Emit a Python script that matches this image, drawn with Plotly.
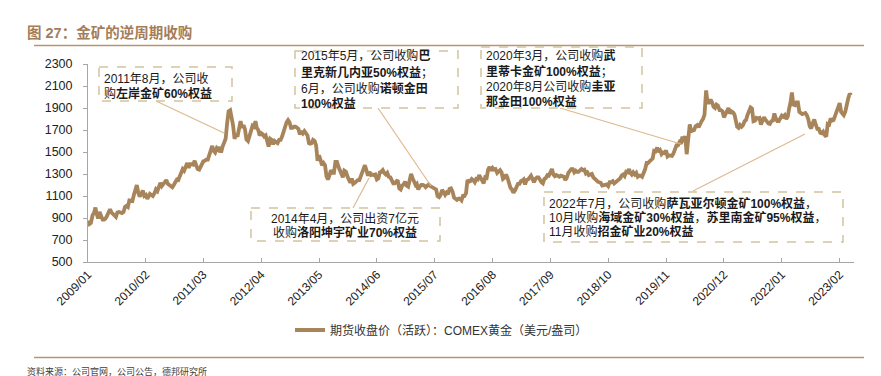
import pandas as pd
import plotly.graph_objects as go

# ---------------- data (COMEX gold, USD/oz, sampled on day 1/11/21 of each month) -------------
years = list(range(2009, 2024))
gold_2009 = [875, 845, 855, 925, 945, 995, 940, 895, 955, 920, 885, 885,
             895, 920, 955, 980, 950, 935, 930, 910, 950, 955, 950, 945,
             955, 1000, 1010, 1000, 1060, 1060, 1055, 1110, 1145, 1200, 1130, 1095]
gold_2010 = [1120, 1150, 1100, 1110, 1075, 1115, 1120, 1110, 1100, 1125, 1160, 1145,
             1180, 1220, 1190, 1215, 1230, 1245, 1210, 1200, 1190, 1180, 1200, 1230,
             1250, 1245, 1275, 1315, 1345, 1330, 1360, 1400, 1355, 1390, 1390, 1385]
gold_2011 = [1420, 1385, 1345, 1340, 1365, 1390, 1415, 1420, 1430, 1430, 1470, 1505,
             1555, 1510, 1495, 1535, 1520, 1545, 1495, 1550, 1595, 1620, 1760, 1870,
             1880, 1820, 1740, 1620, 1660, 1640, 1730, 1780, 1720, 1745, 1710, 1615]
gold_2012 = [1600, 1640, 1670, 1740, 1730, 1780, 1720, 1700, 1650, 1670, 1660, 1640,
             1650, 1590, 1550, 1620, 1610, 1570, 1600, 1590, 1580, 1610, 1610, 1640,
             1690, 1730, 1770, 1790, 1770, 1720, 1720, 1730, 1730, 1720, 1710, 1660]
gold_2013 = [1690, 1670, 1690, 1670, 1650, 1580, 1575, 1580, 1610, 1600, 1560, 1420,
             1470, 1430, 1380, 1400, 1380, 1280, 1250, 1285, 1335, 1310, 1310, 1410,
             1410, 1365, 1330, 1310, 1270, 1330, 1320, 1280, 1245, 1220, 1260, 1210]
gold_2014 = [1220, 1240, 1245, 1245, 1285, 1320, 1330, 1380, 1335, 1285, 1320, 1290,
             1295, 1290, 1295, 1250, 1260, 1315, 1320, 1335, 1310, 1295, 1310, 1275,
             1270, 1245, 1215, 1215, 1225, 1245, 1170, 1160, 1195, 1205, 1230, 1195]
gold_2015 = [1185, 1230, 1300, 1260, 1220, 1200, 1210, 1160, 1185, 1200, 1200, 1195,
             1180, 1190, 1205, 1190, 1180, 1175, 1170, 1160, 1100, 1090, 1110, 1155,
             1135, 1110, 1130, 1115, 1165, 1170, 1140, 1085, 1075, 1065, 1075, 1075]
gold_2016 = [1060, 1100, 1100, 1125, 1245, 1230, 1235, 1255, 1245, 1225, 1255, 1250,
             1290, 1265, 1250, 1215, 1270, 1265, 1340, 1365, 1330, 1355, 1340, 1345,
             1310, 1330, 1335, 1315, 1255, 1265, 1295, 1265, 1215, 1175, 1160, 1130]
gold_2017 = [1150, 1190, 1210, 1210, 1235, 1240, 1250, 1205, 1245, 1250, 1275, 1285,
             1255, 1225, 1255, 1270, 1270, 1245, 1225, 1215, 1255, 1265, 1290, 1285,
             1330, 1345, 1295, 1280, 1290, 1285, 1275, 1285, 1280, 1275, 1245, 1265]
gold_2018 = [1310, 1325, 1345, 1345, 1315, 1330, 1320, 1320, 1330, 1345, 1335, 1340,
             1305, 1315, 1290, 1295, 1300, 1270, 1250, 1245, 1230, 1225, 1220, 1195,
             1200, 1200, 1205, 1190, 1225, 1225, 1235, 1215, 1225, 1230, 1245, 1260]
gold_2019 = [1285, 1295, 1280, 1320, 1315, 1345, 1310, 1295, 1315, 1295, 1310, 1275,
             1285, 1285, 1275, 1310, 1345, 1400, 1400, 1415, 1425, 1440, 1510, 1505,
             1540, 1500, 1515, 1480, 1495, 1490, 1515, 1460, 1470, 1465, 1465, 1485]
gold_2020 = [1520, 1560, 1560, 1590, 1575, 1640, 1590, 1645, 1480, 1590, 1750, 1690,
             1700, 1700, 1735, 1745, 1725, 1765, 1780, 1800, 1840, 2060, 1950, 1950,
             1975, 1950, 1910, 1900, 1930, 1920, 1880, 1880, 1870, 1815, 1840, 1880]
gold_2021 = [1900, 1850, 1870, 1860, 1840, 1780, 1730, 1720, 1745, 1730, 1745, 1780,
             1790, 1835, 1880, 1905, 1895, 1780, 1785, 1810, 1805, 1810, 1750, 1780,
             1815, 1795, 1775, 1760, 1755, 1780, 1785, 1850, 1805, 1780, 1780, 1805]
gold_2022 = [1830, 1820, 1835, 1800, 1825, 1900, 1945, 2040, 1930, 1925, 1950, 1950,
             1865, 1855, 1845, 1850, 1855, 1835, 1800, 1735, 1715, 1765, 1795, 1750,
             1710, 1710, 1675, 1670, 1685, 1655, 1640, 1755, 1750, 1805, 1785, 1790]
gold_2023 = [1830, 1875, 1925, 1945, 1865, 1840, 1835, 1865, 1945, 1990, 2030, 2015]

gold_by_year = [gold_2009, gold_2010, gold_2011, gold_2012, gold_2013, gold_2014, gold_2015,
                gold_2016, gold_2017, gold_2018, gold_2019, gold_2020, gold_2021, gold_2022,
                gold_2023]
sample_days = [1, 11, 21]

tick_labels = ["2009/01", "2010/02", "2011/03", "2012/04", "2013/05", "2014/06", "2015/07",
               "2016/08", "2017/09", "2018/10", "2019/11", "2020/12", "2022/01", "2023/02"]
y_ticks = [500, 700, 900, 1100, 1300, 1500, 1700, 1900, 2100, 2300]

series_name = "期货收盘价（活跃）：COMEX黄金（美元/盎司）"
title_text = "图 27：金矿的逆周期收购"
source_text = "资料来源：公司官网，公司公告，德邦研究所"

# ---------------- build series ----------------
dates, values = [], []
for yr, vals in zip(years, gold_by_year):
    for i, v in enumerate(vals):
        m = i // 3 + 1
        d = sample_days[i % 3]
        dates.append(pd.Timestamp(year=yr, month=m, day=d))
        values.append(v)

tick_vals = [pd.Timestamp(t.replace("/", "-") + "-01") for t in tick_labels]

# ---------------- layout geometry (pixels) ----------------
FW, FH = 881, 376
L, R, T, B = 80, 846, 56, 254
PW, PH = R - L, B - T


def px(x):
    return (x - L) / PW


def py(y):
    return (B - y) / PH


FONT = "Liberation Sans, Arial, Noto Sans CJK SC"
LINE_COLOR = "#a8845a"
BOX_COLOR = "#d3c39e"
CONN_COLOR = "#ddb98f"
LEFT_FIX = -9  # compensates the left padding plotly leaves before left-anchored text

fig = go.Figure()
fig.add_trace(go.Scatter(x=dates, y=values, mode="lines", name=series_name,
                         line=dict(color=LINE_COLOR, width=3.8)))

shapes = []
annotations = []

# title, rules, source
annotations.append(dict(xref="paper", yref="paper", x=px(27), y=py(24), xanchor="left",
                        yanchor="middle", align="left", showarrow=False, xshift=LEFT_FIX - 1,
                        text="<b>" + title_text + "</b>",
                        font=dict(family=FONT, size=14.5, color="#a47d5a")))
shapes.append(dict(type="line", xref="paper", yref="paper", x0=px(26), x1=px(856),
                   y0=py(37.5), y1=py(37.5), line=dict(color="#b99572", width=1.5)))
shapes.append(dict(type="line", xref="paper", yref="paper", x0=px(26), x1=px(856),
                   y0=py(349.5), y1=py(349.5), line=dict(color="#b99572", width=1.5)))
annotations.append(dict(xref="paper", yref="paper", x=px(27), y=py(363), xanchor="left",
                        yanchor="middle", align="left", showarrow=False, text=source_text,
                        xshift=LEFT_FIX - 1,
                        font=dict(family=FONT, size=9, color="#404040")))

# connectors: (x0, y0, x1, y1) in pixels
connectors = [(148, 93, 216, 125), (370, 100, 423, 178), (552, 100, 673, 136),
              (345, 200, 361, 170), (685, 183, 797, 126)]
for x0, y0, x1, y1 in connectors:
    shapes.append(dict(type="line", xref="paper", yref="paper", x0=px(x0), x1=px(x1),
                       y0=py(y0), y1=py(y1), line=dict(color=CONN_COLOR, width=1.2)))

# boxes: (x0, y0, x1, y1)
boxes = [(91, 59, 224, 93), (287, 43, 450, 100), (473, 39, 634, 100),
         (243, 200, 432, 233), (536, 184, 835, 234)]
for x0, y0, x1, y1 in boxes:
    shapes.append(dict(type="rect", xref="paper", yref="paper", x0=px(x0), x1=px(x1),
                       y0=py(y0), y1=py(y1), fillcolor="white",
                       line=dict(color=BOX_COLOR, width=1.5, dash="dash")))

# box texts: (x, anchor, [(y, text), ...])
box_texts = [
    (103, "left", [(71, "2011年8月，公司收"), (85, "购<b>左岸金矿60%权益</b>")]),
    (300, "left", [(48, "2015年5月，公司收购<b>巴</b>"), (64, "<b>里克新几内亚50%权益</b>；"),
                   (80, "6月，公司收购<b>诺顿金田</b>"), (95, "<b>100%权益</b>")]),
    (485, "left", [(47, "2020年3月，公司收购<b>武</b>"), (63, "<b>里蒂卡金矿100%权益</b>；"),
                   (78, "2020年8月公司收购<b>圭亚</b>"), (93, "<b>那金田100%权益</b>")]),
    (337, "center", [(210, "2014年4月，公司出资7亿元"), (224, "收购<b>洛阳坤宇矿业70%权益</b>")]),
    (548, "left", [(195, "2022年7月，公司收购<b>萨瓦亚尔顿金矿100%权益</b>，"),
                   (209, "10月收购<b>海域金矿30%权益</b>，<b>苏里南金矿95%权益</b>，"),
                   (223, "11月收购<b>招金矿业20%权益</b>")]),
]
for x, anchor, lines in box_texts:
    for y, txt in lines:
        annotations.append(dict(xref="paper", yref="paper", x=px(x), y=py(y), xanchor=anchor,
                                yanchor="middle", align=anchor, showarrow=False, text=txt,
                                xshift=LEFT_FIX if anchor == "left" else 0,
                                font=dict(family=FONT, size=12, color="#1a1a1a")))

fig.update_layout(
    width=FW, height=FH,
    margin=dict(l=L, r=FW - R, t=T, b=FH - B, pad=0),
    paper_bgcolor="white", plot_bgcolor="white",
    font=dict(family=FONT, size=12, color="#222"),
    showlegend=True,
    legend=dict(orientation="h", x=px(282), y=py(322), xanchor="left", yanchor="middle",
                font=dict(family=FONT, size=12, color="#333"), bgcolor="rgba(0,0,0,0)"),
    shapes=shapes, annotations=annotations,
    xaxis=dict(type="date", range=[pd.Timestamp("2009-01-01"), pd.Timestamp("2023-05-10")],
               tickmode="array", tickvals=tick_vals, ticktext=tick_labels, tickangle=-45,
               showgrid=False, zeroline=False, showline=True, linecolor="#a6a6a6",
               linewidth=1, ticks="inside", ticklen=4, tickcolor="#a6a6a6",
               tickfont=dict(family=FONT, size=12, color="#222")),
    yaxis=dict(range=[500, 2300], tickmode="array", tickvals=y_ticks, showgrid=False,
               zeroline=False, showline=True, linecolor="#a6a6a6", linewidth=1,
               ticks="outside", ticklen=4, tickcolor="#a6a6a6", ticklabelstandoff=8,
               tickfont=dict(family=FONT, size=12.5, color="#222")),
)

fig.write_html("out.html")
